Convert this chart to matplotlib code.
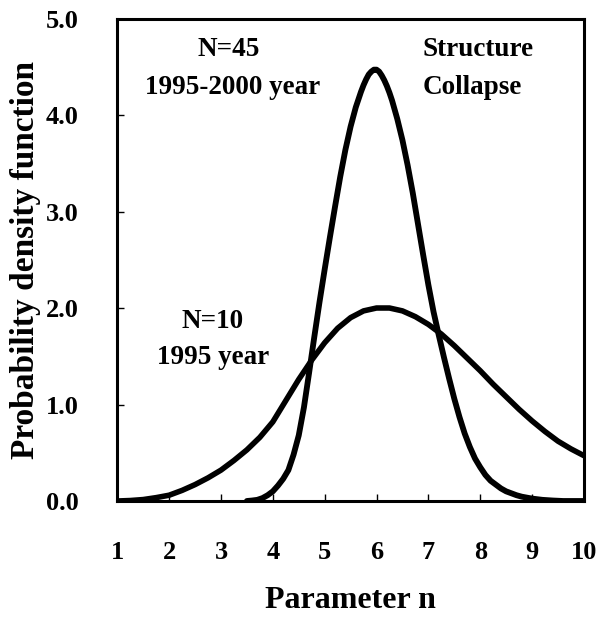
import matplotlib
matplotlib.use("Agg")
import matplotlib.pyplot as plt

plt.rcParams['font.family'] = 'Liberation Serif'
plt.rcParams['font.weight'] = 'bold'

# N=45, 1995-2000 year
x45 = [3.5, 3.6, 3.7, 3.8, 3.9, 4.0, 4.1, 4.2, 4.3, 4.4, 4.5, 4.6, 4.7, 4.8, 4.9,
       5.0, 5.1, 5.2, 5.3, 5.4, 5.5, 5.6, 5.7, 5.75, 5.8, 5.85, 5.9, 5.95, 6.0,
       6.05, 6.1, 6.15, 6.2, 6.25, 6.3, 6.4,
       6.5, 6.6, 6.7, 6.8, 6.9, 7.0, 7.1, 7.2, 7.3, 7.4, 7.5, 7.6, 7.7, 7.8, 7.9,
       8.0, 8.1, 8.2, 8.3, 8.4, 8.5, 8.6, 8.7, 8.8, 8.9, 9.0, 9.2, 9.4, 9.6, 10.0]
y45 = [0.0, 0.005, 0.012, 0.03, 0.06, 0.10, 0.16, 0.23, 0.32, 0.48, 0.68, 0.97, 1.33, 1.70, 2.06,
       2.40, 2.73, 3.05, 3.36, 3.64, 3.88, 4.08, 4.24, 4.31, 4.37, 4.42, 4.45, 4.47, 4.47,
       4.45, 4.41, 4.36, 4.30, 4.23, 4.15, 3.96,
       3.74, 3.48, 3.19, 2.87, 2.55, 2.24, 1.96, 1.72, 1.49, 1.27, 1.06, 0.87, 0.70, 0.56, 0.44,
       0.35, 0.27, 0.21, 0.17, 0.13, 0.10, 0.08, 0.06, 0.045, 0.035, 0.025, 0.012, 0.005, 0.0, 0.0]

# N=10, 1995 year
x10 = [1.0, 1.25, 1.5, 1.75, 2.0, 2.25, 2.5, 2.75, 3.0, 3.25, 3.5, 3.75, 4.0, 4.25,
       4.5, 4.75, 5.0, 5.25, 5.5, 5.75, 6.0, 6.25, 6.5, 6.75, 7.0, 7.25, 7.5, 7.75,
       8.0, 8.25, 8.5, 8.75, 9.0, 9.25, 9.5, 9.75, 10.0]
y10 = [0.0, 0.005, 0.015, 0.035, 0.06, 0.11, 0.17, 0.24, 0.32, 0.42, 0.53, 0.66, 0.82, 1.04,
       1.26, 1.46, 1.64, 1.79, 1.90, 1.97, 2.0, 2.0, 1.97, 1.91, 1.83, 1.73, 1.61, 1.48,
       1.35, 1.21, 1.08, 0.95, 0.83, 0.72, 0.62, 0.54, 0.47]

xticks = [1, 2, 3, 4, 5, 6, 7, 8, 9, 10]
yticks = [0.0, 1.0, 2.0, 3.0, 4.0, 5.0]

fig = plt.figure(figsize=(6.14, 6.17), dpi=100)
ax = fig.add_axes([0.191, 0.188, 0.760, 0.782])

ax.plot(x45, y45, color='black', lw=4.2, solid_capstyle='round', solid_joinstyle='round')
ax.plot(x10, y10, color='black', lw=4.0, solid_capstyle='round', solid_joinstyle='round')

ax.set_xlim(1, 10)
ax.set_ylim(0, 5)
ax.set_xticks(xticks)
ax.set_xticklabels([str(v) for v in xticks])
ax.set_yticks(yticks)
ax.set_yticklabels(['%.1f' % v for v in yticks])
ax.tick_params(axis='x', direction='in', length=5, width=1, pad=29, labelsize=19)
ax.tick_params(axis='y', direction='in', length=5, width=1, pad=28, labelsize=19)
for s in ax.spines.values():
    s.set_linewidth(2.2)

fig.text(0.57, 0.027, 'Parameter n', ha='center', va='center', fontsize=23, fontweight='bold')
fig.text(0.041, 0.578, 'Probability density function', ha='center', va='center',
         rotation=90, fontsize=24, fontweight='bold')

ax.text(0.238, 0.935, 'N=45', transform=ax.transAxes, ha='center', va='center', fontsize=19.5)
ax.text(0.248, 0.858, '1995-2000 year', transform=ax.transAxes, ha='center', va='center', fontsize=19.5)
ax.text(0.655, 0.935, 'Structure', transform=ax.transAxes, ha='left', va='center', fontsize=19.5)
ax.text(0.655, 0.858, 'Collapse', transform=ax.transAxes, ha='left', va='center', fontsize=19.5)
ax.text(0.205, 0.371, 'N=10', transform=ax.transAxes, ha='center', va='center', fontsize=19.5)
ax.text(0.205, 0.298, '1995 year', transform=ax.transAxes, ha='center', va='center', fontsize=19.5)

fig.savefig('out.png', dpi=100)
